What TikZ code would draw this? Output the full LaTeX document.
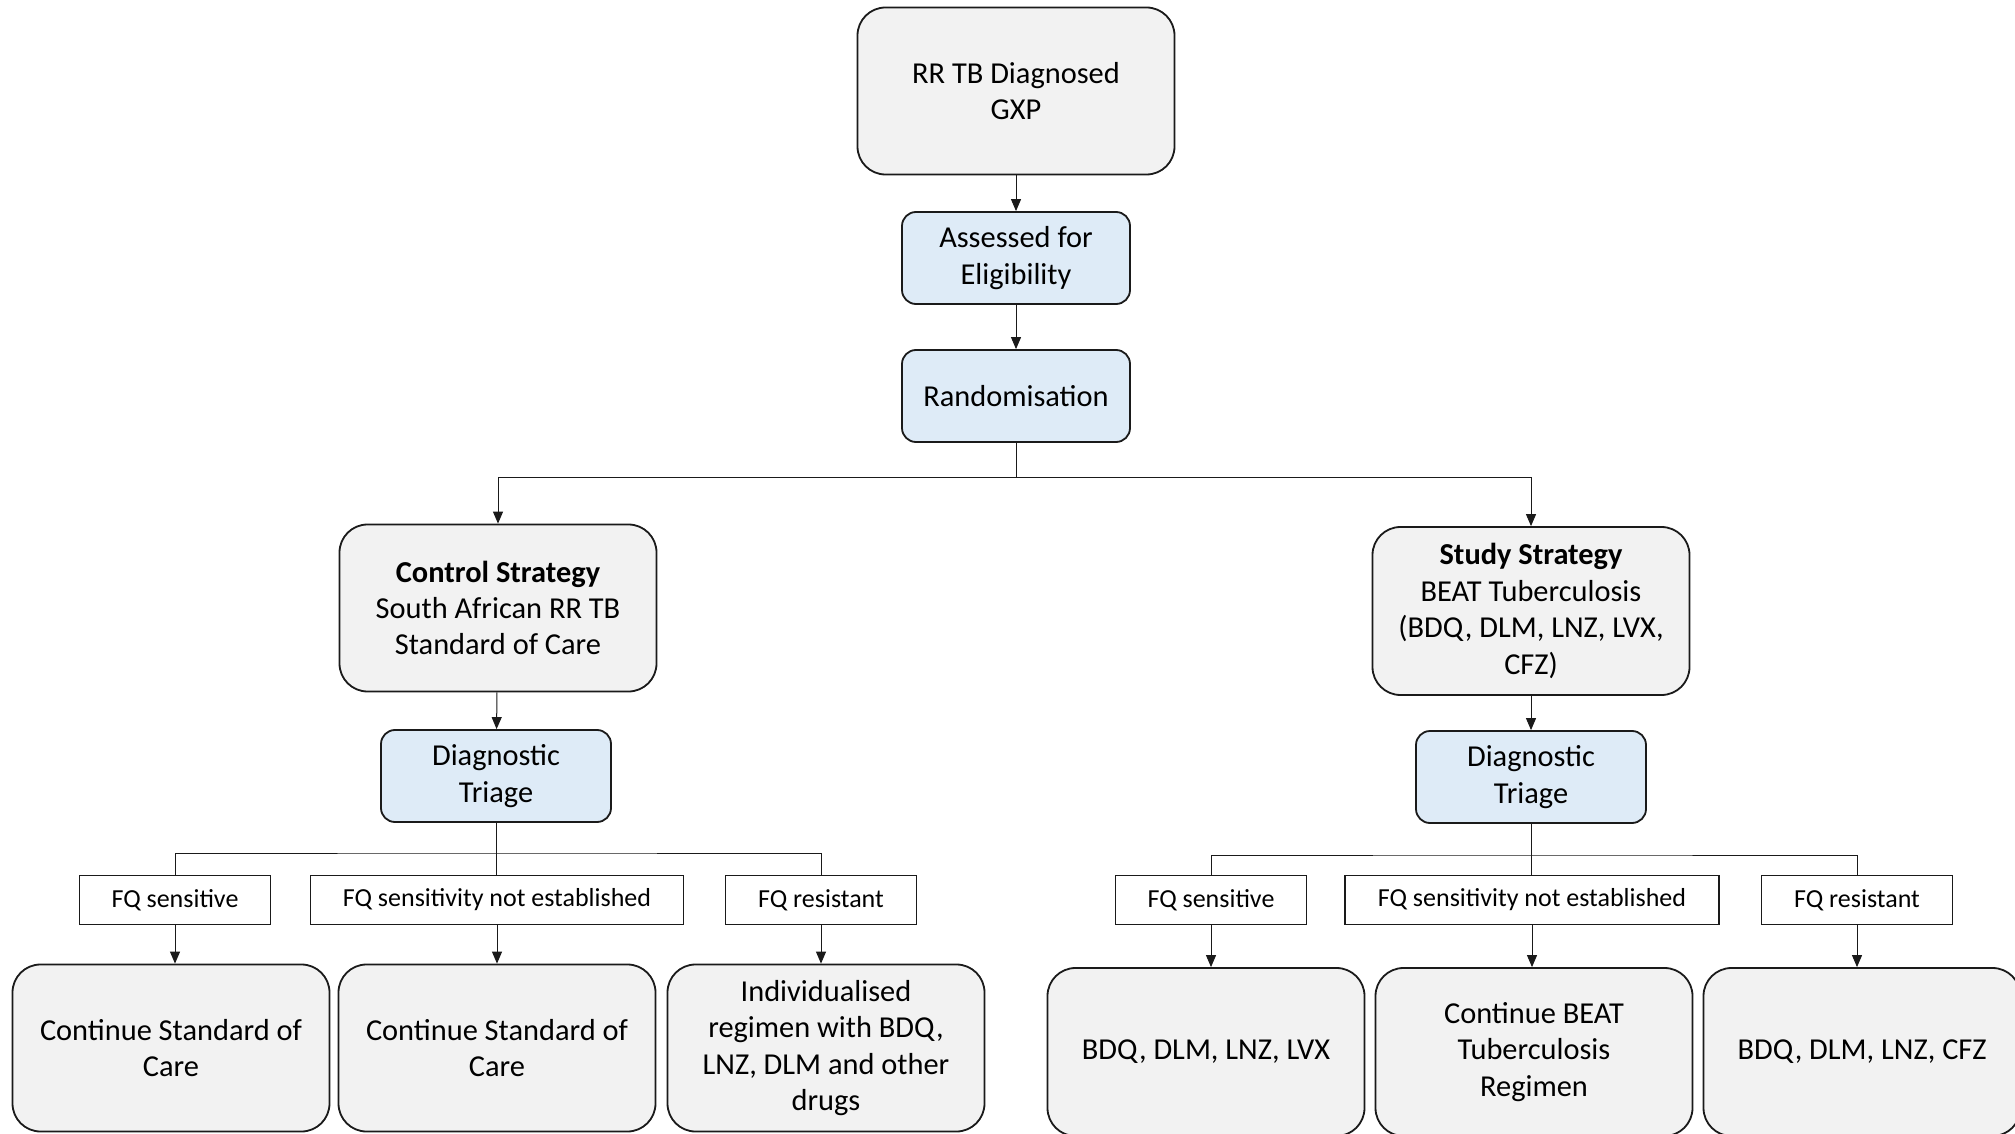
\documentclass[tikz,border=0pt]{standalone}
\usepackage{fontspec}
\setmainfont{Carlito}
\usepackage{tikz}
\usetikzlibrary{arrows.meta,positioning,calc}
\definecolor{greyfill}{HTML}{F2F2F2}
\definecolor{bluefill}{HTML}{DEEBF7}
\definecolor{edgecol}{HTML}{1A1A1A}

\begin{document}
\begin{tikzpicture}[x=0.5pt, y=-0.5pt,
  font=\fontsize{15.2}{18.2}\selectfont,
  stagebox/.style={draw=edgecol, line width=0.9pt, fill=greyfill, rounded corners=14pt,
                   align=center, inner sep=2pt, minimum width=158.5pt, minimum height=#1},
  stagebox/.default=83.5pt,
  actbox/.style={draw=edgecol, line width=0.9pt, fill=bluefill, rounded corners=7pt,
                 align=center, inner sep=2pt, minimum height=46pt, minimum width=#1},
  actbox/.default=114pt,
  fqbox/.style={draw=edgecol, line width=0.9pt, fill=white, align=center, inner sep=2pt,
                minimum height=24.5pt, minimum width=#1, font=\fontsize{13}{15}\selectfont},
  fqbox/.default=95.5pt,
  arr/.style={-{Triangle[length=6pt,width=5pt]}, edgecol, line width=0.5pt},
  ln/.style={edgecol, line width=0.5pt}]
\clip (0,0) rectangle (2015,1134);
\fill[white] (0,0) rectangle (2015,1134);
% trunk
\node[stagebox] (diag) at (1016, 91) {RR TB Diagnosed\\GXP};
\node[actbox] (assess) at (1016, 258) {Assessed for\\Eligibility};
\node[actbox] (rand) at (1016, 396) {Randomisation};
% two arms
\node[stagebox] (ctrl) at (498, 608) {\textbf{Control Strategy}\\South African RR TB\\Standard of Care};
\node[stagebox=84pt] (study) at (1531, 611) {\textbf{Study Strategy}\\BEAT Tuberculosis\\(BDQ, DLM, LNZ, LVX,\\CFZ)};
\node[actbox=115pt] (triL) at (496, 776) {Diagnostic\\Triage};
\node[actbox=115pt] (triR) at (1531, 777) {Diagnostic\\Triage};
% FQ results
\node[fqbox] (sensL) at (175, 900) {FQ sensitive};
\node[fqbox=186.5pt] (nestL) at (497, 900) {FQ sensitivity not established};
\node[fqbox] (resL) at (821, 900) {FQ resistant};
\node[fqbox] (sensR) at (1211, 900) {FQ sensitive};
\node[fqbox=187pt] (nestR) at (1532, 900) {FQ sensitivity not established};
\node[fqbox] (resR) at (1857, 900) {FQ resistant};
% regimens
\node[stagebox] (outL1) at (171, 1048) {Continue Standard of\\Care};
\node[stagebox] (outL2) at (497, 1048) {Continue Standard of\\Care};
\node[stagebox] (outL3) at (826, 1048) {Individualised\\regimen with BDQ,\\LNZ, DLM and other\\drugs};
\node[stagebox=84pt] (outR1) at (1206, 1052) {BDQ, DLM, LNZ, LVX};
\node[stagebox=84pt] (outR2) at (1534, 1052) {Continue BEAT\\Tuberculosis\\Regimen};
\node[stagebox=84pt] (outR3) at (1862, 1052) {BDQ, DLM, LNZ, CFZ};
\coordinate (split) at (1016, 477);
\coordinate (forkL) at (496, 853);
\coordinate (forkR) at (1531, 855);

\draw[arr] (diag) -- (assess);
\draw[arr] (assess) -- (rand);
\draw[ln] (rand.south) -- (split);
\draw[arr] (split) -| (ctrl.north);
\draw[arr] (split) -| (study.north);
\draw[arr] (ctrl) -- (triL);
\draw[arr] (study) -- (triR);
\draw[ln] (triL.south) -- (triL.south |- nestL.north);
\draw[ln] (sensL.north) |- (forkL) -| (resL.north);
\draw[ln] (triR.south) -- (triR.south |- nestR.north);
\draw[ln] (sensR.north) |- (forkR) -| (resR.north);
\foreach \a/\b in {sensL/outL1, nestL/outL2, resL/outL3, sensR/outR1, nestR/outR2, resR/outR3}
  \draw[arr] (\a.south) -- (\a.south |- \b.north);
\end{tikzpicture}
\end{document}
